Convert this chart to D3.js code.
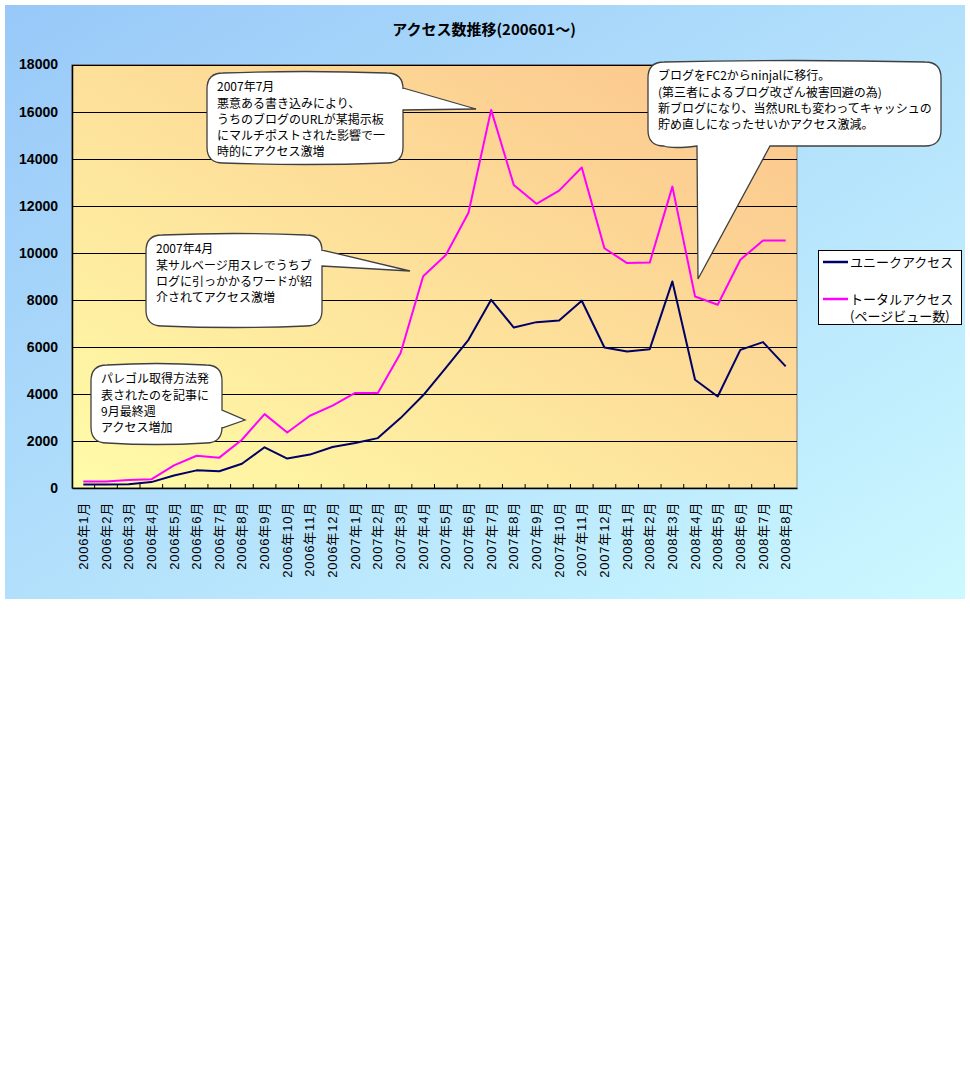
<!DOCTYPE html>
<html>
<head>
<meta charset="utf-8">
<script src="https://cdn.jsdelivr.net/npm/d3@7"></script>
<style>
  body { margin: 0; background: #fff; }
  text { font-family: "Liberation Sans", Arial, "Noto Sans CJK JP", sans-serif; }
  .jp { font-family: "Noto Sans CJK JP", sans-serif; }
</style>
</head>
<body>
<script>
'use strict';

const months = [
  '2006年1月', '2006年2月', '2006年3月', '2006年4月', '2006年5月', '2006年6月',
  '2006年7月', '2006年8月', '2006年9月', '2006年10月', '2006年11月', '2006年12月',
  '2007年1月', '2007年2月', '2007年3月', '2007年4月', '2007年5月', '2007年6月',
  '2007年7月', '2007年8月', '2007年9月', '2007年10月', '2007年11月', '2007年12月',
  '2008年1月', '2008年2月', '2008年3月', '2008年4月', '2008年5月', '2008年6月',
  '2008年7月', '2008年8月'
];
const uniqueAccess = [150, 150, 160, 250, 530, 750, 710, 1030, 1730, 1250, 1420, 1740,
  1910, 2120, 2970, 3940, 5110, 6300, 8000, 6820, 7050, 7120, 7960, 5970,
  5800, 5900, 8780, 4600, 3890, 5870, 6200, 5170];
const totalAccess = [280, 280, 340, 370, 960, 1370, 1290, 2050, 3140, 2360, 3070, 3500,
  4040, 4040, 5730, 9000, 9900, 11700, 16070, 12880, 12080, 12640, 13620, 10190,
  9560, 9580, 12810, 8140, 7790, 9700, 10520, 10520];
const yTicks = [0, 2000, 4000, 6000, 8000, 10000, 12000, 14000, 16000, 18000];
const seriesNames = ['ユニークアクセス', 'トータルアクセス'];
const seriesColors = ['#000066', '#ff00ff'];
const title = 'アクセス数推移(200601～)';

// callout notes (annotation boxes, pixel geometry)
const notes = [
  { lines: ['2007年7月', '悪意ある書き込みにより、', 'うちのブログのURLが某掲示板', 'にマルチポストされた影響で一', '時的にアクセス激増'],
    box: [207, 73, 403, 163], side: 'right', base: [88, 110], tip: [476, 109] },
  { lines: ['2007年4月', '某サルベージ用スレでうちブ', 'ログに引っかかるワードが紹', '介されてアクセス激増'],
    box: [146, 235, 322, 326], side: 'right', base: [250, 266], tip: [410, 271] },
  { lines: ['パレゴル取得方法発', '表されたのを記事に', '9月最終週', 'アクセス増加'],
    box: [91, 365, 222, 443], side: 'right', base: [410, 428], tip: [245, 420] },
  { lines: ['ブログをFC2からninjalに移行。', '(第三者によるブログ改ざん被害回避の為)', '新ブログになり、当然URLも変わってキャッシュの', '貯め直しになったせいかアクセス激減。'],
    box: [648, 62, 941, 146], side: 'bottom', base: [697, 770], tip: [698, 279] }
];

const W = 970, H = 1080;
const plot = { left: 72, right: 797, top: 64.5, bottom: 488 };

const svg = d3.select('body').append('svg').attr('width', W).attr('height', H);
const defs = svg.append('defs');

const bgGrad = defs.append('linearGradient').attr('id', 'bg')
  .attr('x1', 0).attr('y1', 0).attr('x2', 1).attr('y2', 1);
bgGrad.append('stop').attr('offset', 0).attr('stop-color', '#98c8f8');
bgGrad.append('stop').attr('offset', 1).attr('stop-color', '#ccf8ff');

const plotGrad = defs.append('linearGradient').attr('id', 'plotbg')
  .attr('x1', 0).attr('y1', 1).attr('x2', 1).attr('y2', 0);
plotGrad.append('stop').attr('offset', 0).attr('stop-color', '#fffca8');
plotGrad.append('stop').attr('offset', 1).attr('stop-color', '#fbc48c');

// chart background
svg.append('rect').attr('x', 5).attr('y', 5).attr('width', 960).attr('height', 594)
  .attr('fill', 'url(#bg)');

svg.append('text').attr('class', 'jp')
  .attr('x', 484).attr('y', 35)
  .attr('text-anchor', 'middle')
  .attr('font-size', 15).attr('font-weight', 'bold')
  .attr('fill', '#000')
  .text(title);

const x = d3.scaleBand().domain(months).range([plot.left, plot.right]);
const y = d3.scaleLinear().domain([0, 18000]).range([plot.bottom, plot.top]);

svg.append('rect')
  .attr('x', plot.left).attr('y', plot.top)
  .attr('width', plot.right - plot.left).attr('height', plot.bottom - plot.top)
  .attr('fill', 'url(#plotbg)')
  .attr('stroke', '#808080').attr('stroke-width', 1);

// gridlines
svg.append('g').selectAll('line')
  .data(yTicks.filter(d => d > 0))
  .join('line')
  .attr('x1', plot.left).attr('x2', plot.right)
  .attr('y1', d => Math.round(y(d)) + 0.5).attr('y2', d => Math.round(y(d)) + 0.5)
  .attr('stroke', '#000').attr('stroke-width', 1);

// y axis
const yAxis = svg.append('g')
  .attr('transform', `translate(${plot.left},0)`)
  .call(d3.axisLeft(y).tickValues(yTicks).tickSize(0).tickPadding(14).tickFormat(d3.format('d')));
yAxis.select('.domain').attr('stroke', '#000').attr('stroke-width', 1.5);
yAxis.selectAll('text')
  .attr('font-size', 14).attr('font-weight', 'bold').attr('fill', '#000')
  .attr('font-family', '"Liberation Sans", Arial, sans-serif');

// x axis
const xAxis = svg.append('g')
  .attr('transform', `translate(0,${plot.bottom})`)
  .call(d3.axisBottom(x).tickSize(0).tickFormat(''));
xAxis.select('.domain').attr('stroke', '#000').attr('stroke-width', 1.5);

// category boundary ticks, pointing up into the plot
svg.append('g').selectAll('line')
  .data(months.slice(1))
  .join('line')
  .attr('x1', d => x(d)).attr('x2', d => x(d))
  .attr('y1', plot.bottom).attr('y2', plot.bottom - 4)
  .attr('stroke', '#000');

svg.append('g').selectAll('text')
  .data(months)
  .join('text')
  .attr('transform', d => `translate(${x(d) + x.bandwidth() / 2},502) rotate(-90)`)
  .attr('text-anchor', 'end')
  .attr('dy', '0.35em')
  .attr('font-size', 13)
  .attr('letter-spacing', '0.8px')
  .attr('fill', '#000')
  .text(d => d);

// callouts
function calloutPath(n) {
  const [x0, y0, x1, y1] = n.box;
  const r = 16, b = 3;
  const p = d3.path();
  p.moveTo(x0 + r, y0);
  p.quadraticCurveTo((x0 + x1) / 2, y0 - b, x1 - r, y0);
  p.quadraticCurveTo(x1, y0, x1, y0 + r);
  if (n.side === 'right') {
    p.lineTo(x1, n.base[0]);
    p.lineTo(n.tip[0], n.tip[1]);
    p.lineTo(x1, n.base[1]);
  }
  p.lineTo(x1, y1 - r);
  p.quadraticCurveTo(x1, y1, x1 - r, y1);
  if (n.side === 'bottom') {
    p.lineTo(n.base[1], y1);
    p.lineTo(n.tip[0], n.tip[1]);
    p.lineTo(n.base[0], y1);
    p.quadraticCurveTo((x0 + n.base[0]) / 2, y1 + b, x0 + r, y1);
  } else {
    p.quadraticCurveTo((x0 + x1) / 2, y1 + b, x0 + r, y1);
  }
  p.quadraticCurveTo(x0, y1, x0, y1 - r);
  p.lineTo(x0, y0 + r);
  p.quadraticCurveTo(x0, y0, x0 + r, y0);
  p.closePath();
  return p.toString();
}

const callouts = svg.append('g').selectAll('g')
  .data(notes)
  .join('g');
callouts.append('path')
  .attr('d', calloutPath)
  .attr('fill', '#fff')
  .attr('stroke', '#404040')
  .attr('stroke-width', 1.3);
callouts.each(function (n) {
  const g = d3.select(this);
  g.selectAll('text')
    .data(n.lines)
    .join('text')
    .attr('class', 'jp')
    .attr('x', n.box[0] + 10)
    .attr('y', (d, i) => n.box[1] + 14 + i * 16.3)
    .attr('dy', '0.35em')
    .attr('font-size', 12)
    .attr('fill', '#000')
    .text(d => d);
});

// series lines
const line = d3.line()
  .x((d, i) => x(months[i]) + x.bandwidth() / 2)
  .y(d => y(d));

svg.append('g').selectAll('path')
  .data([uniqueAccess, totalAccess])
  .join('path')
  .attr('d', line)
  .attr('fill', 'none')
  .attr('stroke', (d, i) => seriesColors[i])
  .attr('stroke-width', 2)
  .attr('stroke-linejoin', 'round');

// legend
const legend = svg.append('g');
legend.append('rect')
  .attr('x', 818.5).attr('y', 250.5).attr('width', 143).attr('height', 74)
  .attr('fill', '#fff').attr('stroke', '#000');
const legendY = [262, 299];
legend.selectAll('line')
  .data(seriesNames)
  .join('line')
  .attr('x1', 823).attr('x2', 848)
  .attr('y1', (d, i) => legendY[i]).attr('y2', (d, i) => legendY[i])
  .attr('stroke', (d, i) => seriesColors[i])
  .attr('stroke-width', 2.5);
legend.selectAll('text.name')
  .data(seriesNames)
  .join('text')
  .attr('class', 'jp name')
  .attr('x', 850).attr('y', (d, i) => legendY[i])
  .attr('dy', '0.35em')
  .attr('font-size', 13)
  .attr('fill', '#000')
  .text(d => d);
legend.append('text')
  .attr('class', 'jp')
  .attr('x', 850).attr('y', 316)
  .attr('dy', '0.35em')
  .attr('font-size', 13)
  .attr('fill', '#000')
  .text('(ページビュー数)');
</script>
</body>
</html>
